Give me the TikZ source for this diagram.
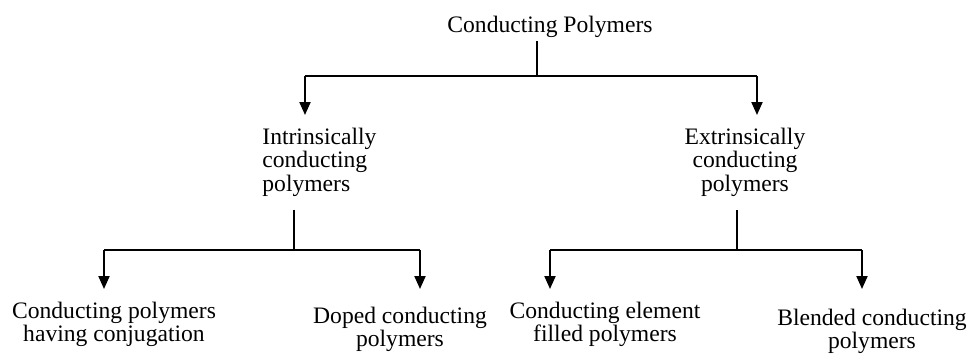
\documentclass[tikz,border=0pt]{standalone}
\usepackage{fontspec}
\setmainfont{Liberation Serif}
\usetikzlibrary{arrows.meta,positioning,calc}
\tikzset{
  clase/.style={align=center,font=\fontsize{11.8}{11.6}\selectfont,
                inner xsep=0pt,inner ysep=6.5pt},
  clasei/.style={clase,align=left},
  enlace/.style={draw=black,line width=1pt},
  flecha/.style={enlace,-{Triangle[length=6.5pt,width=5.5pt]}},
}

\begin{document}
\begin{tikzpicture}[x=0.5pt,y=-0.5pt]
\useasboundingbox (0,0) rectangle (971,355);

\node[clase,anchor=base,inner ysep=2pt] (raiz) at (550,32) {Conducting Polymers};

% primer nivel
\coordinate (u1) at (537,76);
\coordinate (ui) at (305,76);
\coordinate (ue) at (757,76);
\node[clasei,anchor=north west] (intr) at (262,115) {Intrinsically\\conducting\\polymers};
\node[clase,anchor=north] (extr) at (745,115) {Extrinsically\\conducting\\polymers};

% segundo nivel
\coordinate (di) at (294,250);
\coordinate (dl) at (104,250);
\coordinate (dr) at (420,250);
\coordinate (de) at (737,250);
\coordinate (el) at (550,250);
\coordinate (er) at (862,250);
\node[clase,anchor=north] (conj) at (114,289) {Conducting polymers\\having conjugation};
\node[clase,anchor=north,inner ysep=9pt] (dop) at (400,289) {Doped conducting\\polymers};
\node[clase,anchor=north] (llen) at (605,289) {Conducting element\\filled polymers};
\node[clase,anchor=north,inner ysep=10pt] (mez) at (872,289) {Blended conducting\\polymers};

\draw[enlace] (raiz.south -| u1) -- (u1);
\draw[enlace] (ui) -- (ue);
\draw[flecha] (ui) -- (ui |- intr.north);
\draw[flecha] (ue) -- (ue |- extr.north);

\draw[enlace] (intr.south -| di) -- (di);
\draw[enlace] (dl) -- (dr);
\draw[flecha] (dl) -- (dl |- conj.north);
\draw[flecha] (dr) -- (dr |- dop.north);

\draw[enlace] (extr.south -| de) -- (de);
\draw[enlace] (el) -- (er);
\draw[flecha] (el) -- (el |- llen.north);
\draw[flecha] (er) -- (er |- mez.north);

\end{tikzpicture}
\end{document}
